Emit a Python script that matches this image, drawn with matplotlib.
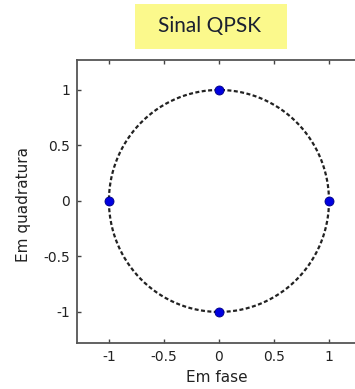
import numpy as np
import matplotlib
matplotlib.use("Agg")
import matplotlib.pyplot as plt
from matplotlib.patches import Rectangle

# Data
symbols_i = [1, 0, -1, 0]
symbols_q = [0, 1, 0, -1]
xticks = [-1, -0.5, 0, 0.5, 1]
yticks = [-1, -0.5, 0, 0.5, 1]
xtick_labels = ["-1", "-0.5", "0", "0.5", "1"]
ytick_labels = ["-1", "-0.5", "0", "0.5", "1"]
title = "Sinal QPSK"
xlabel = "Em fase"
ylabel = "Em quadratura"

W, H = 355, 389
fig = plt.figure(figsize=(W / 100, H / 100), dpi=100)
fig.patch.set_facecolor("white")
ax = fig.add_axes([77 / W, 46 / H, (362 - 77) / W, (343 - 60) / H])

theta = np.linspace(0, 2 * np.pi, 400)
ax.plot(np.cos(theta), np.sin(theta), linestyle=(0, (1.8, 1.1)), color="#222222", linewidth=1.6)
ax.plot(symbols_i, symbols_q, "o", color="#0000e0", markeredgecolor="#000080",
        markeredgewidth=0.6, markersize=6.5, linestyle="none", zorder=3)

ax.set_xlim(-1.29, 1.30)
ax.set_ylim(-1.28, 1.27)
ax.set_xticks(xticks)
ax.set_xticklabels(xtick_labels)
ax.set_yticks(yticks)
ax.set_yticklabels(ytick_labels)
ax.tick_params(direction="in", length=3, width=1, colors="#444444", labelcolor="#222222",
               labelsize=10, top=True, right=False, pad=5)
for s in ["left", "bottom", "top", "right"]:
    ax.spines[s].set_color("#555555")
    ax.spines[s].set_linewidth(1.3)

fig.text(217 / W, 1 - 377 / H, xlabel, ha="center", va="center", fontsize=11, color="#222222")
fig.text(24 / W, 1 - 205 / H, ylabel, ha="center", va="center", rotation=90, fontsize=11,
         color="#222222")

fig.patches.append(Rectangle((135 / W, 1 - 49 / H), (287 - 135) / W, (49 - 4) / H,
                             transform=fig.transFigure, facecolor="#fbf98c", edgecolor="none",
                             zorder=0))
fig.text(209 / W, 1 - 26 / H, title, ha="center", va="center", fontsize=15, color="#1a2030",
         family="Lato")

fig.savefig("out.png", dpi=100)
